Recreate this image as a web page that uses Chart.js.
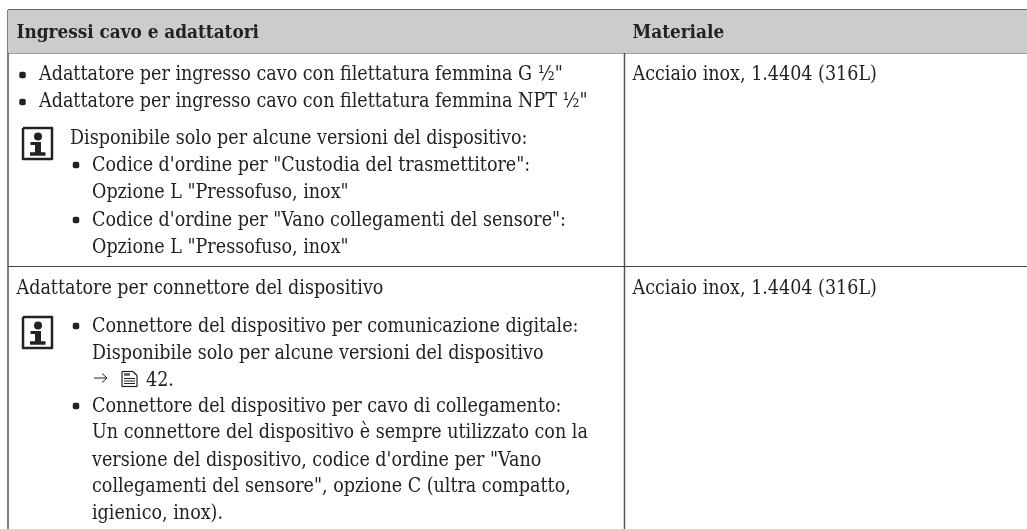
<!DOCTYPE html>
<html lang="it">
<head>
<meta charset="utf-8">
<title>Ingressi cavo e adattatori</title>
<style>
    html, body { margin: 0; padding: 0; background: #fff; }
    canvas { display: block; }
</style>
<script src="https://cdn.jsdelivr.net/npm/chart.js@4"></script>
</head>
<body>
<canvas id="tableChart" width="1027" height="529"></canvas>
<script>
// ---- TABLE CONTENT ----
const headerLabels = ['Ingressi cavo e adattatori', 'Materiale'];
const headerX = [16.5, 632.5];
const headerY = [38, 38];

const bodyLines = [
    'Adattatore per ingresso cavo con filettatura femmina G ½"',
    'Adattatore per ingresso cavo con filettatura femmina NPT ½"',
    'Disponibile solo per alcune versioni del dispositivo:',
    'Codice d\'ordine per "Custodia del trasmettitore":',
    'Opzione L "Pressofuso, inox"',
    'Codice d\'ordine per "Vano collegamenti del sensore":',
    'Opzione L "Pressofuso, inox"',
    'Adattatore per connettore del dispositivo',
    'Connettore del dispositivo per comunicazione digitale:',
    'Disponibile solo per alcune versioni del dispositivo',
    '42.',
    'Connettore del dispositivo per cavo di collegamento:',
    'Un connettore del dispositivo è sempre utilizzato con la',
    'versione del dispositivo, codice d\'ordine per "Vano',
    'collegamenti del sensore", opzione C (ultra compatto,',
    'igienico, inox).',
    'Acciaio inox, 1.4404 (316L)',
    'Acciaio inox, 1.4404 (316L)'
];
const bodyX = [39, 39, 70, 92, 92, 92, 92, 16.5, 92, 92, 146, 92, 92, 92, 92, 92, 632.5, 632.5];
const bodyY = [80, 107, 144, 171, 198, 226, 253, 294, 332, 359, 386, 412, 438, 466, 492, 519, 80, 294];

const bulletX = [22.5, 22.5, 76, 76, 76, 76];
const bulletY = [75, 102, 165, 220, 326, 406];

// ---- TABLE GEOMETRY (in axis units) ----
const tableLeft = 8;
const tableRight = 1027;
const tableTop = 10;
const headerBottom = 53;
const rowDivider = 266.5;
const columnDivider = 624.5;
const tableBottom = 529;
const iconTops = [128, 317];

const lineDark = '#444444';
const lineGrey = '#808080';
const headerGrey = '#cccccc';
const inkColor = '#222222';

const segment = (x1, y1, x2, y2, width, color) => ({
    type: 'line',
    data: [{ x: x1, y: y1 }, { x: x2, y: y2 }],
    borderColor: color,
    borderWidth: width,
    pointRadius: 0,
    fill: false
});

// Info icon: rounded box with a slab "i"
const infoIcon = (top) => {
    const box = {
        type: 'line',
        data: [
            { x: 23, y: top }, { x: 52, y: top }, { x: 52, y: top + 31 },
            { x: 23, y: top + 31 }, { x: 23, y: top }
        ],
        borderColor: inkColor,
        borderWidth: 2.5,
        borderJoinStyle: 'round',
        pointRadius: 0,
        fill: false
    };
    const dot = {
        type: 'scatter',
        data: [{ x: 38, y: top + 8.5 }],
        backgroundColor: inkColor,
        borderWidth: 0,
        pointRadius: 4
    };
    return [
        box, dot,
        segment(30.5, top + 15.5, 41, top + 15.5, 3, inkColor),
        segment(38, top + 15, 38, top + 26, 6, inkColor),
        segment(30, top + 26, 45.5, top + 26, 3.5, inkColor)
    ];
};

// Page reference icon next to the arrow
const pageIcon = (left, top) => [
    segment(left, top, left + 11, top, 1.2, inkColor),
    segment(left + 11, top, left + 15, top + 4, 1.2, inkColor),
    segment(left + 15, top + 4, left + 15, top + 15, 1.2, inkColor),
    segment(left + 15, top + 15, left, top + 15, 1.2, inkColor),
    segment(left, top + 15, left, top, 1.2, inkColor),
    segment(left + 2, top + 3, left + 8, top + 3, 2.5, '#555555'),
    segment(left + 2, top + 7, left + 13, top + 7, 1, inkColor),
    segment(left + 2, top + 9.5, left + 13, top + 9.5, 1, inkColor),
    segment(left + 2, top + 12, left + 13, top + 12, 1, inkColor)
];

// Thin reference arrow
const arrow = [
    segment(94, 378, 107, 378, 1, inkColor),
    segment(102, 373.5, 107, 378, 1, inkColor),
    segment(102, 382.5, 107, 378, 1, inkColor)
];

const datasets = [
    // Header band between two lines
    {
        type: 'line',
        data: [{ x: tableLeft, y: tableTop }, { x: tableRight, y: tableTop }],
        borderWidth: 0,
        pointRadius: 0,
        backgroundColor: headerGrey,
        fill: '+1'
    },
    {
        type: 'line',
        data: [{ x: tableLeft, y: headerBottom }, { x: tableRight, y: headerBottom }],
        borderWidth: 0,
        pointRadius: 0,
        fill: false
    },
    // Table rules
    segment(tableLeft, tableTop, tableRight, tableTop, 2, '#666666'),
    segment(tableLeft, headerBottom, tableRight, headerBottom, 1.2, lineDark),
    segment(tableLeft, rowDivider, tableRight, rowDivider, 1.2, lineDark),
    segment(tableLeft, tableTop, tableLeft, tableBottom, 2, lineGrey),
    segment(columnDivider, tableTop, columnDivider, tableBottom, 1.5, '#555555'),
    // Bullets
    {
        type: 'scatter',
        data: bulletX.map((x, i) => ({ x: x, y: bulletY[i] })),
        pointStyle: 'rectRounded',
        pointRadius: 3.8,
        backgroundColor: inkColor,
        borderWidth: 0
    },
    ...iconTops.flatMap(infoIcon),
    ...pageIcon(122, 371.5),
    ...arrow
];

// Draws the table text at positions taken from the chart's scales
const tableText = {
    id: 'tableText',
    afterDatasetsDraw(chart) {
        const { ctx, scales: { x, y } } = chart;
        ctx.save();
        ctx.textAlign = 'left';
        ctx.textBaseline = 'alphabetic';
        ctx.fillStyle = inkColor;

        ctx.font = "bold 18.8px 'DejaVu Serif Condensed', 'DejaVu Serif', serif";
        headerLabels.forEach((label, i) => {
            ctx.fillText(label, x.getPixelForValue(headerX[i]), y.getPixelForValue(headerY[i]));
        });

        ctx.font = "19.5px 'DejaVu Serif Condensed', 'DejaVu Serif', serif";
        bodyLines.forEach((line, i) => {
            ctx.fillText(line, x.getPixelForValue(bodyX[i]), y.getPixelForValue(bodyY[i]));
        });
        ctx.restore();
    }
};

new Chart(document.getElementById('tableChart').getContext('2d'), {
    type: 'scatter',
    data: { datasets: datasets },
    plugins: [tableText],
    options: {
        responsive: false,
        animation: false,
        layout: { padding: 0, autoPadding: false },
        plugins: {
            legend: { display: false },
            tooltip: { enabled: false },
            filler: { propagate: false }
        },
        scales: {
            x: { type: 'linear', display: false, min: 0, max: 1027 },
            y: { type: 'linear', display: false, min: 0, max: 529, reverse: true }
        }
    }
});
</script>
</body>
</html>
